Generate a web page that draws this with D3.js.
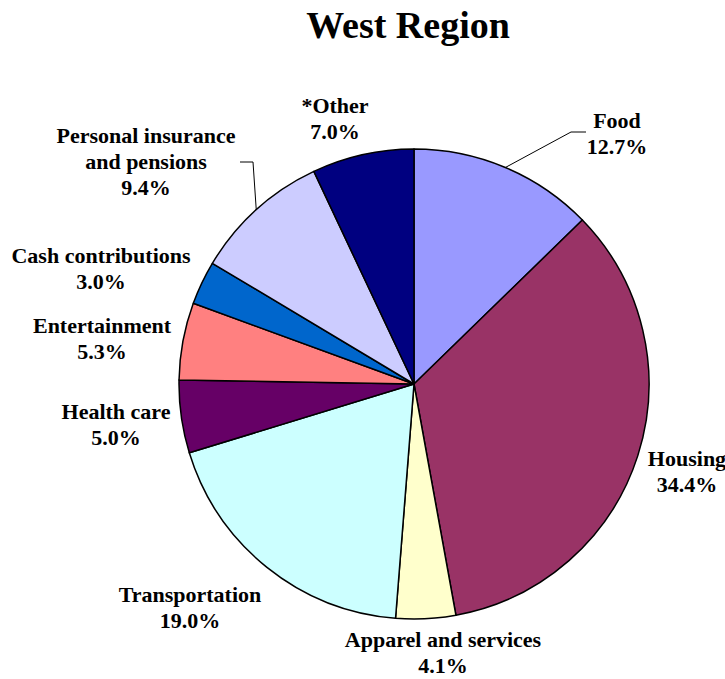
<!DOCTYPE html>
<html>
<head>
<meta charset="utf-8">
<script src="https://cdn.jsdelivr.net/npm/d3@7/dist/d3.min.js"></script>
<style>
  body { margin: 0; background: #fff; }
  svg text { font-family: "Liberation Serif", "Times New Roman", serif; font-weight: bold; fill: #000; }
</style>
</head>
<body>
<svg id="pie-chart" width="725" height="679"></svg>
<script>
// West Region spending shares
const categories = ["Food", "Housing", "Apparel and services", "Transportation", "Health care",
    "Entertainment", "Cash contributions", "Personal insurance and pensions", "*Other"];
const shares = [12.7, 34.4, 4.1, 19.0, 5.0, 5.3, 3.0, 9.4, 7.0];
const colors = ["#9999ff", "#993366", "#ffffcc", "#ccffff", "#660066", "#ff8080", "#0066cc", "#ccccff", "#000080"];
// label text lines
const labelLines = [["Food"], ["Housing"], ["Apparel and services"], ["Transportation"], ["Health care"],
    ["Entertainment"], ["Cash contributions"], ["Personal insurance", "and pensions"], ["*Other"]];

// label placement (centre of text block) and leader elbows, in svg coordinates
const labelLayout = [
    {x: 617, y: 133, elbow: [[586, 132], [571, 132]]},
    {x: 687, y: 471},
    {x: 443, y: 652},
    {x: 190, y: 607},
    {x: 116, y: 424},
    {x: 102, y: 338},
    {x: 101, y: 268},
    {x: 146, y: 161, elbow: [[240, 162], [253, 162]]},
    {x: 335, y: 118}
];

const svg = d3.select("#pie-chart");
const cx = 414, cy = 384, radius = 235;
const lineH = 26;

svg.append("text")
    .attr("x", 408).attr("y", 38)
    .attr("text-anchor", "middle")
    .style("font-size", "38px")
    .text("West Region");

const data = categories.map((c, i) => ({name: c, value: shares[i], color: colors[i], lines: labelLines[i], layout: labelLayout[i]}));

// shares normalised over the full circle, as the source does
const pie = d3.pie().value(d => d.value).sort(null);
const arcs = pie(data);
const arc = d3.arc().innerRadius(0).outerRadius(radius);

const g = svg.append("g").attr("transform", `translate(${cx},${cy})`);

g.selectAll("path.slice")
    .data(arcs)
    .enter().append("path")
    .attr("class", "slice")
    .attr("d", arc)
    .attr("fill", d => d.data.color)
    .attr("stroke", "#000")
    .attr("stroke-width", 1.5)
    .attr("stroke-linejoin", "round");

// leader lines
arcs.filter(d => d.data.layout.elbow).forEach(d => {
    const mid = (d.startAngle + d.endAngle) / 2;
    const edge = [cx + radius * Math.sin(mid), cy - radius * Math.cos(mid)];
    const pts = d.data.layout.elbow.concat([edge]);
    svg.append("path")
        .attr("d", d3.line()(pts))
        .attr("fill", "none")
        .attr("stroke", "#000")
        .attr("stroke-width", 1);
});

// labels
arcs.forEach(d => {
    const lines = d.data.lines.concat([d3.format(".1f")(d.data.value) + "%"]);
    const t = svg.append("text")
        .attr("text-anchor", "middle")
        .style("font-size", "22px");
    lines.forEach((ln, i) => {
        t.append("tspan")
            .attr("x", d.data.layout.x)
            .attr("y", d.data.layout.y + (i - (lines.length - 1) / 2) * lineH)
            .attr("dy", "0.35em")
            .text(ln);
    });
});
</script>
</body>
</html>
